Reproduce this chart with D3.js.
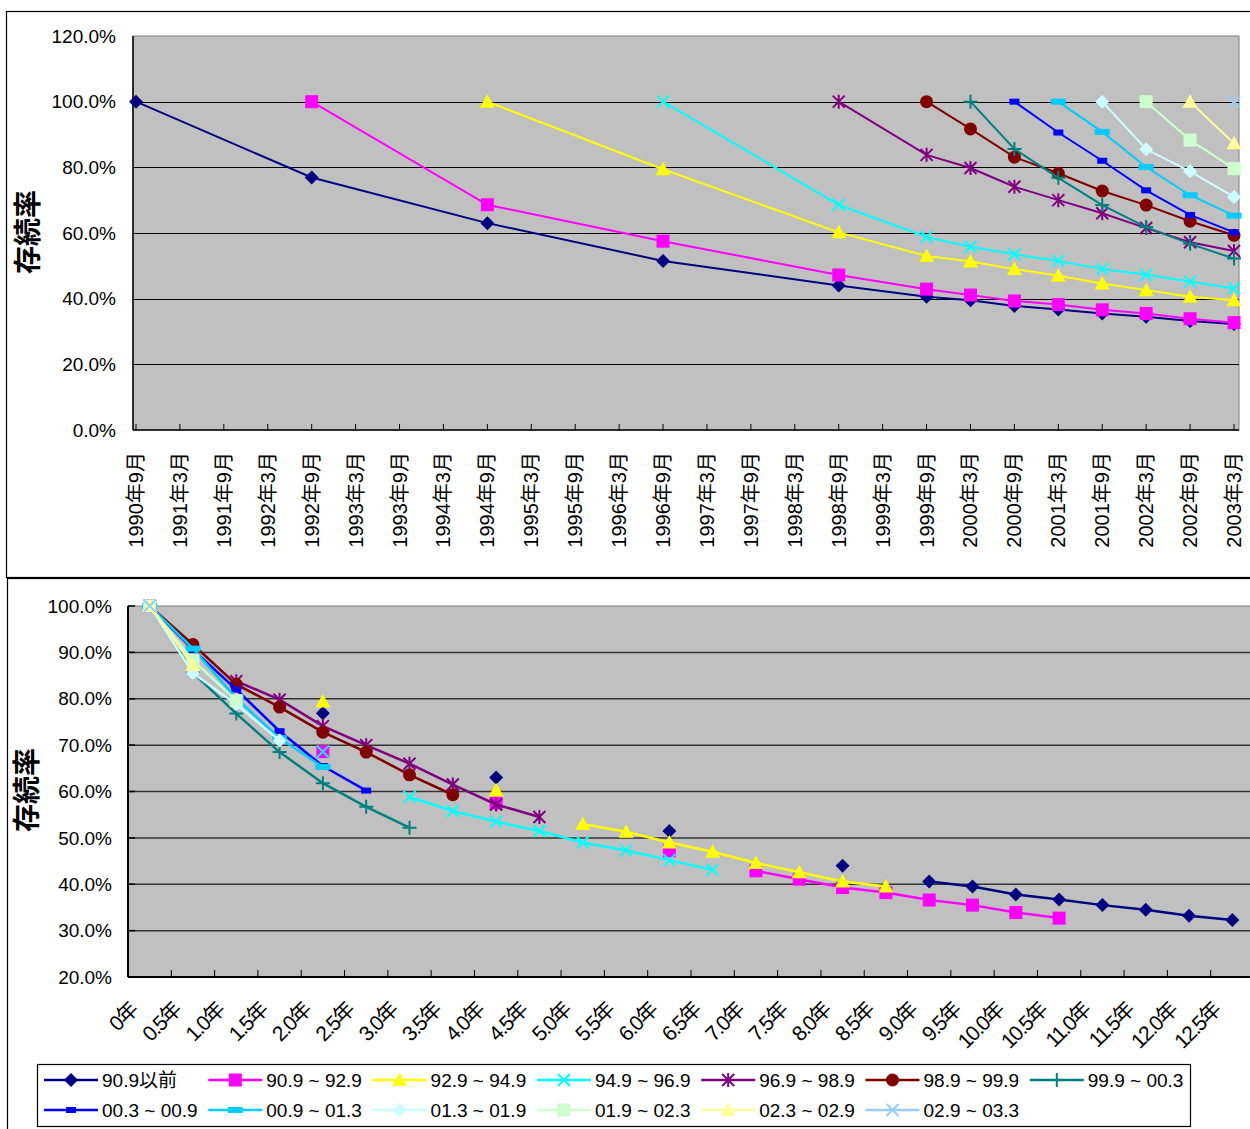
<!DOCTYPE html>
<html>
<head>
<meta charset="utf-8">
<script src="https://cdn.jsdelivr.net/npm/d3@7"></script>
<style>
  body { margin: 0; background: #fff; }
  text { font-family: "Liberation Sans", Arial, "Noto Sans CJK JP", sans-serif; fill: #000; }
</style>
</head>
<body>
<svg id="svg1" width="1250" height="1129"></svg>
<script>
// categories
var dateLabels = ["1990年9月", "1991年3月", "1991年9月", "1992年3月", "1992年9月", "1993年3月", "1993年9月",
  "1994年3月", "1994年9月", "1995年3月", "1995年9月", "1996年3月", "1996年9月", "1997年3月", "1997年9月",
  "1998年3月", "1998年9月", "1999年3月", "1999年9月", "2000年3月", "2000年9月", "2001年3月", "2001年9月",
  "2002年3月", "2002年9月", "2003年3月"];
var yearLabels = ["0年", "0.5年", "1.0年", "1.5年", "2.0年", "2.5年", "3.0年", "3.5年", "4.0年", "4.5年",
  "5.0年", "5.5年", "6.0年", "6.5年", "7.0年", "7.5年", "8.0年", "8.5年", "9.0年", "9.5年", "10.0年",
  "10.5年", "11.0年", "11.5年", "12.0年", "12.5年"];
var topTicks = [0, 20, 40, 60, 80, 100, 120];
var lowTicks = [20, 30, 40, 50, 60, 70, 80, 90, 100];

var seriesNames = ["90.9以前", "90.9 ~ 92.9", "92.9 ~ 94.9", "94.9 ~ 96.9", "96.9 ~ 98.9", "98.9 ~ 99.9",
  "99.9 ~ 00.3", "00.3 ~ 00.9", "00.9 ~ 01.3", "01.3 ~ 01.9", "01.9 ~ 02.3", "02.3 ~ 02.9", "02.9 ~ 03.3"];
var seriesColors = ["#000080", "#FF00FF", "#FFFF00", "#00FFFF", "#800080", "#800000", "#008080",
  "#0000FF", "#00CCFF", "#CCFFFF", "#CCFFCC", "#FFFF99", "#99CCFF"];
var seriesMarkers = ["diamond", "square", "triangle", "x", "star", "circle", "plus",
  "dash", "longdash", "diamond", "square", "triangle", "x"];
// index of the first month (in dateLabels) of each group
var startIndex = [0, 4, 8, 12, 16, 18, 19, 20, 21, 22, 23, 24, 25];

// survival rate (%) by elapsed half-year
var s1 = [100, null, null, null, 76.9, null, null, null, 63.0, null, null, null, 51.5, null, null, null, 44.0, null, 40.6, 39.5, 37.8, 36.7, 35.5, 34.5, 33.2, 32.3];
var s2 = [100, null, null, null, 68.6, null, null, null, 57.5, null, null, null, 47.2, null, 42.9, 41.1, 39.3, 38.2, 36.6, 35.5, 33.9, 32.7];
var s3 = [100, null, null, null, 79.4, null, null, null, 60.2, null, 53.0, 51.3, 49.0, 47.0, 44.6, 42.6, 40.6, 39.5];
var s4 = [100, null, null, null, 68.6, null, 58.8, 55.8, 53.5, 51.5, 49.0, 47.3, 45.2, 43.1];
var s5 = [100, null, 83.8, 79.8, 74.1, 70.0, 66.0, 61.5, 57.2, 54.5];
var s6 = [100, 91.7, 83.1, 78.2, 72.8, 68.5, 63.6, 59.3];
var s7 = [100, 85.6, 76.8, 68.5, 61.8, 56.7, 52.2];
var s8 = [100, 90.6, 82.0, 73.0, 65.5, 60.2];
var s9 = [100, 90.8, 80.1, 71.5, 65.3];
var s10 = [100, 85.5, 78.8, 71.0];
var s11 = [100, 88.3, 79.6];
var s12 = [100, 87.3];
var s13 = [100];
var seriesValues = [s1, s2, s3, s4, s5, s6, s7, s8, s9, s10, s11, s12, s13];

var svg = d3.select("#svg1");
var fmt = function (v) { return v.toFixed(1) + "%"; };

var drawMarker = function (g, type, x, y, c) {
  var m = g.append("g").attr("transform", "translate(" + x + "," + y + ")");
  if (type == "diamond") {
    m.append("path").attr("d", "M0,-7L7,0L0,7L-7,0Z").attr("fill", c);
  } else if (type == "square") {
    m.append("rect").attr("x", -6.5).attr("y", -6.5).attr("width", 13).attr("height", 13).attr("fill", c);
  } else if (type == "triangle") {
    m.append("path").attr("d", "M0,-7.5L7.5,6L-7.5,6Z").attr("fill", c);
  } else if (type == "circle") {
    m.append("circle").attr("r", 6.5).attr("fill", c);
  } else if (type == "dash") {
    m.append("rect").attr("x", -5).attr("y", -3).attr("width", 10).attr("height", 6).attr("fill", c);
  } else if (type == "longdash") {
    m.append("rect").attr("x", -7.5).attr("y", -3).attr("width", 15).attr("height", 6).attr("fill", c);
  } else {
    var p = "";
    if (type == "x" || type == "star") p += "M-6,-6L6,6M-6,6L6,-6";
    if (type == "star") p += "M0,-7L0,7";
    if (type == "plus") p += "M-7,0L7,0M0,-7L0,7";
    m.append("path").attr("d", p).attr("stroke", c).attr("stroke-width", 2).attr("fill", "none");
  }
};

// frames
svg.append("rect").attr("x", 6.5).attr("y", 11.5).attr("width", 1270).attr("height", 566)
  .attr("fill", "#fff").attr("stroke", "#000").attr("stroke-width", 1.2);
svg.append("rect").attr("x", 7.5).attr("y", 578.5).attr("width", 1270).attr("height", 570)
  .attr("fill", "#fff").attr("stroke", "#000").attr("stroke-width", 1.2);

// ---------- top chart: by month ----------
var xTop = d3.scalePoint().domain(dateLabels).range([136, 1234]);
var yTop = d3.scaleLinear().domain([0, 120]).range([430, 36]);
var topG = svg.append("g");

topG.append("rect").attr("x", 133).attr("y", 36).attr("width", 1106).attr("height", 394)
  .attr("fill", "#C0C0C0").attr("stroke", "#808080");
topG.selectAll(".grid").data(topTicks.slice(1, 6)).enter().append("line")
  .attr("x1", 133).attr("x2", 1239).attr("y1", function (d) { return Math.round(yTop(d)) + 0.5; })
  .attr("y2", function (d) { return Math.round(yTop(d)) + 0.5; })
  .attr("stroke", "#000").attr("stroke-width", 1);
topG.append("line").attr("x1", 133).attr("x2", 133).attr("y1", 36).attr("y2", 430).attr("stroke", "#000").attr("stroke-width", 1.5);
topG.append("line").attr("x1", 133).attr("x2", 1239).attr("y1", 430).attr("y2", 430).attr("stroke", "#000").attr("stroke-width", 1.5);
topG.selectAll(".xt").data(dateLabels).enter().append("line")
  .attr("x1", function (d) { return xTop(d); }).attr("x2", function (d) { return xTop(d); })
  .attr("y1", 430).attr("y2", 424).attr("stroke", "#000");
topG.selectAll(".yl").data(topTicks).enter().append("text")
  .attr("x", 116).attr("y", function (d) { return yTop(d); }).attr("dy", "0.35em")
  .attr("text-anchor", "end").style("font-size", "19px").text(fmt);
topG.selectAll(".xl").data(dateLabels).enter().append("text")
  .attr("transform", function (d) { return "translate(" + xTop(d) + ",452) rotate(-90)"; })
  .attr("dy", "0.35em").attr("text-anchor", "end").style("font-size", "20px").text(function (d) { return d; });
topG.append("text").attr("transform", "translate(28,232) rotate(-90)").attr("dy", "0.35em")
  .attr("text-anchor", "middle").style("font-size", "28px").style("font-weight", "bold")
  .style("font-family", "'Noto Sans CJK JP', sans-serif").text("存続率");

var topLine = d3.line().x(function (d) { return xTop(dateLabels[d.i]); }).y(function (d) { return yTop(d.v); });
seriesValues.forEach(function (vals, s) {
  var pts = [];
  vals.forEach(function (v, k) { if (v != null) pts.push({ i: startIndex[s] + k, v: v }); });
  topG.append("path").attr("d", topLine(pts)).attr("fill", "none")
    .attr("stroke", seriesColors[s]).attr("stroke-width", 2);
  pts.forEach(function (p) { drawMarker(topG, seriesMarkers[s], xTop(dateLabels[p.i]), yTop(p.v), seriesColors[s]); });
});

// ---------- lower chart: by elapsed years ----------
var xLow = d3.scaleBand().domain(yearLabels).range([128, 1254]);
var yLow = d3.scaleLinear().domain([20, 100]).range([977, 606]);
var bw = xLow.bandwidth();
var lowG = svg.append("g");

lowG.append("rect").attr("x", 128).attr("y", 606).attr("width", 1130).attr("height", 371)
  .attr("fill", "#C0C0C0").attr("stroke", "#808080");
lowG.selectAll(".grid").data(lowTicks.slice(1, 8)).enter().append("line")
  .attr("x1", 128).attr("x2", 1258).attr("y1", function (d) { return yLow(d); }).attr("y2", function (d) { return yLow(d); })
  .attr("stroke", "#333").attr("stroke-width", 1.5);
lowG.append("line").attr("x1", 128).attr("x2", 128).attr("y1", 606).attr("y2", 977).attr("stroke", "#000").attr("stroke-width", 2);
lowG.append("line").attr("x1", 128).attr("x2", 1258).attr("y1", 977).attr("y2", 977).attr("stroke", "#000").attr("stroke-width", 2);
lowG.selectAll(".yt").data(lowTicks).enter().append("line")
  .attr("x1", 128).attr("x2", 135).attr("y1", function (d) { return yLow(d); }).attr("y2", function (d) { return yLow(d); })
  .attr("stroke", "#000").attr("stroke-width", 1.5);
lowG.selectAll(".xt").data(yearLabels.slice(1)).enter().append("line")
  .attr("x1", function (d) { return xLow(d); }).attr("x2", function (d) { return xLow(d); })
  .attr("y1", 977).attr("y2", 970).attr("stroke", "#000");
lowG.selectAll(".yl").data(lowTicks).enter().append("text")
  .attr("x", 112).attr("y", function (d) { return yLow(d); }).attr("dy", "0.35em")
  .attr("text-anchor", "end").style("font-size", "19px").text(fmt);
lowG.selectAll(".xl").data(yearLabels).enter().append("text")
  .attr("transform", function (d) { return "translate(" + (xLow(d) + bw / 2 - 16) + ",1006) rotate(-45)"; })
  .attr("dy", "0.35em").attr("text-anchor", "end").style("font-size", "21px").style("letter-spacing", "-1.5px")
  .text(function (d) { return d; });
lowG.append("text").attr("transform", "translate(27,790) rotate(-90)").attr("dy", "0.35em")
  .attr("text-anchor", "middle").style("font-size", "28px").style("font-weight", "bold")
  .style("font-family", "'Noto Sans CJK JP', sans-serif").text("存続率");

var lowLine = d3.line().defined(function (d) { return d != null; })
  .x(function (d, k) { return xLow(yearLabels[k]) + bw / 2; }).y(function (d) { return yLow(d); });
seriesValues.forEach(function (vals, s) {
  lowG.append("path").attr("d", lowLine(vals)).attr("fill", "none")
    .attr("stroke", seriesColors[s]).attr("stroke-width", 2.5);
  vals.forEach(function (v, k) {
    if (v != null) drawMarker(lowG, seriesMarkers[s], xLow(yearLabels[k]) + bw / 2, yLow(v), seriesColors[s]);
  });
});

// ---------- legend ----------
var legend = svg.append("g");
legend.append("rect").attr("x", 37.5).attr("y", 1064.5).attr("width", 1153).attr("height", 62)
  .attr("fill", "#fff").attr("stroke", "#000").attr("stroke-width", 1.2);
seriesNames.forEach(function (name, s) {
  var col = s % 7, row = Math.floor(s / 7);
  var lx = 44 + col * 164.3, ly = 1080 + row * 30;
  legend.append("line").attr("x1", lx).attr("x2", lx + 54).attr("y1", ly).attr("y2", ly)
    .attr("stroke", seriesColors[s]).attr("stroke-width", 2.5);
  drawMarker(legend, seriesMarkers[s], lx + 27, ly, seriesColors[s]);
  legend.append("text").attr("x", lx + 58).attr("y", ly).attr("dy", "0.35em")
    .style("font-size", "19px").text(name);
});
</script>
</body>
</html>
